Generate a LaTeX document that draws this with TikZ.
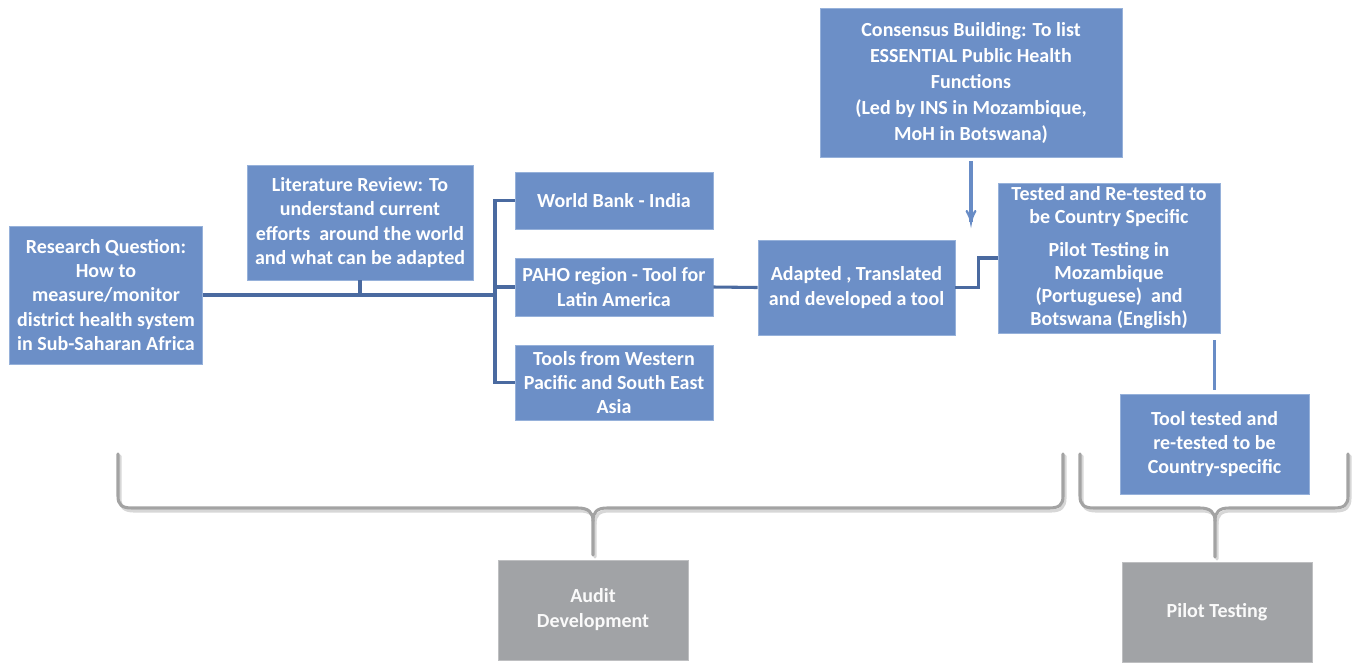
\documentclass[tikz,border=0pt]{standalone}
\usepackage{fontspec}
\setmainfont{Carlito}
\usepackage{tikz}

\begin{document}
\begin{tikzpicture}[x=0.75pt,y=0.75pt,yscale=-1,xscale=1,
    bluebox/.style={fill={rgb, 255:red, 108; green, 143; blue, 199}, draw={rgb, 255:red, 150; green, 177; blue, 218}, line width=0.6,
        text=white, align=center, inner sep=0pt, font=\fontsize{15}{18.2}\selectfont\bfseries},
    greybox/.style={fill={rgb, 255:red, 161; green, 163; blue, 166}, draw={rgb, 255:red, 190; green, 191; blue, 193}, line width=0.6,
        text={rgb, 255:red, 250; green, 250; blue, 250}, align=center, inner sep=0pt, font=\fontsize{15}{18.8}\selectfont\bfseries},
    link/.style={draw={rgb, 255:red, 74; green, 106; blue, 160}, line width=2.3},
    lightlink/.style={draw={rgb, 255:red, 104; green, 140; blue, 198}, line width=2.3},
    brace/.style={draw={rgb, 255:red, 163; green, 163; blue, 163}, line width=2.3, line cap=round, line join=round},
    braceshade/.style={draw={rgb, 255:red, 215; green, 215; blue, 215}, line width=2.3, line cap=round, line join=round}
]
        %set diagram to 1363 x 662
        \path [use as bounding box] (0,0) rectangle (1363,662);

        % Text Node
        \draw (106,295) node [bluebox, minimum width=144.75pt, minimum height=103.5pt] (question) {Research Question:\\How to\\measure/monitor\\district health system\\in Sub-Saharan Africa};
        % Text Node
        \draw (360,222.5) node [bluebox, minimum width=169.5pt, minimum height=86.25pt] (review) {Literature Review: To\\understand current\\efforts\ \ around the world\\and what can be adapted};
        % Text Node
        \draw (614,200.5) node [bluebox, minimum width=148.5pt, minimum height=42.75pt] (worldbank) {World Bank - India};
        % Text Node
        \draw (614,287) node [bluebox, minimum width=148.5pt, minimum height=43.5pt] (paho) {PAHO region - Tool for\\Latin America};
        % Text Node
        \draw (614,382.5) node [bluebox, minimum width=148.5pt, minimum height=56.25pt] (western) {Tools from Western\\Pacific and South East\\Asia};
        % Text Node
        \draw (856.5,287.5) node [bluebox, minimum width=147.75pt, minimum height=71.25pt] (adapted) {Adapted , Translated\\and developed a tool};
        % Text Node
        \draw (971,82.5) node [bluebox, minimum width=226.5pt, minimum height=111.75pt, font=\fontsize{15}{19.5}\selectfont\bfseries] (consensus) {Consensus Building: To list\\ESSENTIAL Public Health\\Functions\\(Led by INS in Mozambique,\\MoH in Botswana)};
        % Text Node
        \draw (1109,258) node [bluebox, minimum width=166.5pt, minimum height=112.5pt, font=\fontsize{15}{17.4}\selectfont\bfseries] (tested) {Tested and Re-tested to\\be Country Specific\\[7pt]Pilot Testing in\\Mozambique\\(Portuguese)\ \ and\\Botswana (English)};
        % Text Node
        \draw (1214.5,444) node [bluebox, minimum width=141.75pt, minimum height=75pt] (tooltest) {Tool tested and\\re-tested to be\\Country-specific};
        % Text Node
        \draw (593,610) node [greybox, minimum width=142.5pt, minimum height=75pt] (audit) {Audit\\Development};
        % Text Node
        \draw (1217,612) node [greybox, minimum width=142.5pt, minimum height=75pt] (pilot) {Pilot Testing};

        \coordinate (split) at (495,295);
        \coordinate (arrowend) at (971,222);

        %Straight Lines
        \draw [link] (question.east) -- (split);
        \draw [link] (review.south) -- (review.south |- split);
        \draw [link] (worldbank.west) -- (worldbank.west -| split) |- (western.west);
        \draw [link] (paho.west) -- (paho.west -| split);
        \draw [link] (paho.east) -- (adapted.west);
        \draw [link] (adapted.east) -- ++(23,0) |- (tested.west);
        \draw [lightlink, shorten <=5, shorten >=3] (tooltest.north |- tested.south) -- (tooltest.north);

        %Arrow
        \draw [lightlink, shorten <=3] (consensus.south) -- (arrowend);
        \draw [shift={(arrowend)}, rotate = 270] [color={rgb, 255:red, 104; green, 140; blue, 198}][line width=1.8, line cap=round]    (10.93,-4.29) .. controls (6.95,-1.9) and (3.31,-0.4) .. (0,0) .. controls (3.31,0.4) and (6.95,1.9) .. (10.93,4.29)   ;

        %Shape: Brace (shadow)
        \draw [braceshade] (120,456) -- (120,498) .. controls (120,507) and (124,511) .. (134,511) -- (580,511) .. controls (590,511) and (595,515) .. (595,524) -- (595,557);
        \draw [braceshade] (1065,456) -- (1065,498) .. controls (1065,507) and (1061,511) .. (1051,511) -- (609,511) .. controls (599,511) and (595,515) .. (595,524);
        \draw [braceshade] (1082,456) -- (1082,498) .. controls (1082,507) and (1086,511) .. (1096,511) -- (1202,511) .. controls (1212,511) and (1217,515) .. (1217,524) -- (1217,559);
        \draw [braceshade] (1350,456) -- (1350,498) .. controls (1350,507) and (1346,511) .. (1336,511) -- (1231,511) .. controls (1221,511) and (1217,515) .. (1217,524);
        %Shape: Brace
        \draw [brace] (118,454) -- (118,496) .. controls (118,505) and (122,508) .. (132,508) -- (578,508) .. controls (588,508) and (593,512) .. (593,521) -- (593,555);
        \draw [brace] (1063,454) -- (1063,496) .. controls (1063,505) and (1059,508) .. (1049,508) -- (607,508) .. controls (597,508) and (593,512) .. (593,521);
        \draw [brace] (1080,454) -- (1080,496) .. controls (1080,505) and (1084,508) .. (1094,508) -- (1200,508) .. controls (1210,508) and (1215,512) .. (1215,521) -- (1215,557);
        \draw [brace] (1348,454) -- (1348,496) .. controls (1348,505) and (1344,508) .. (1334,508) -- (1229,508) .. controls (1219,508) and (1215,512) .. (1215,521);

\end{tikzpicture}
\end{document}
